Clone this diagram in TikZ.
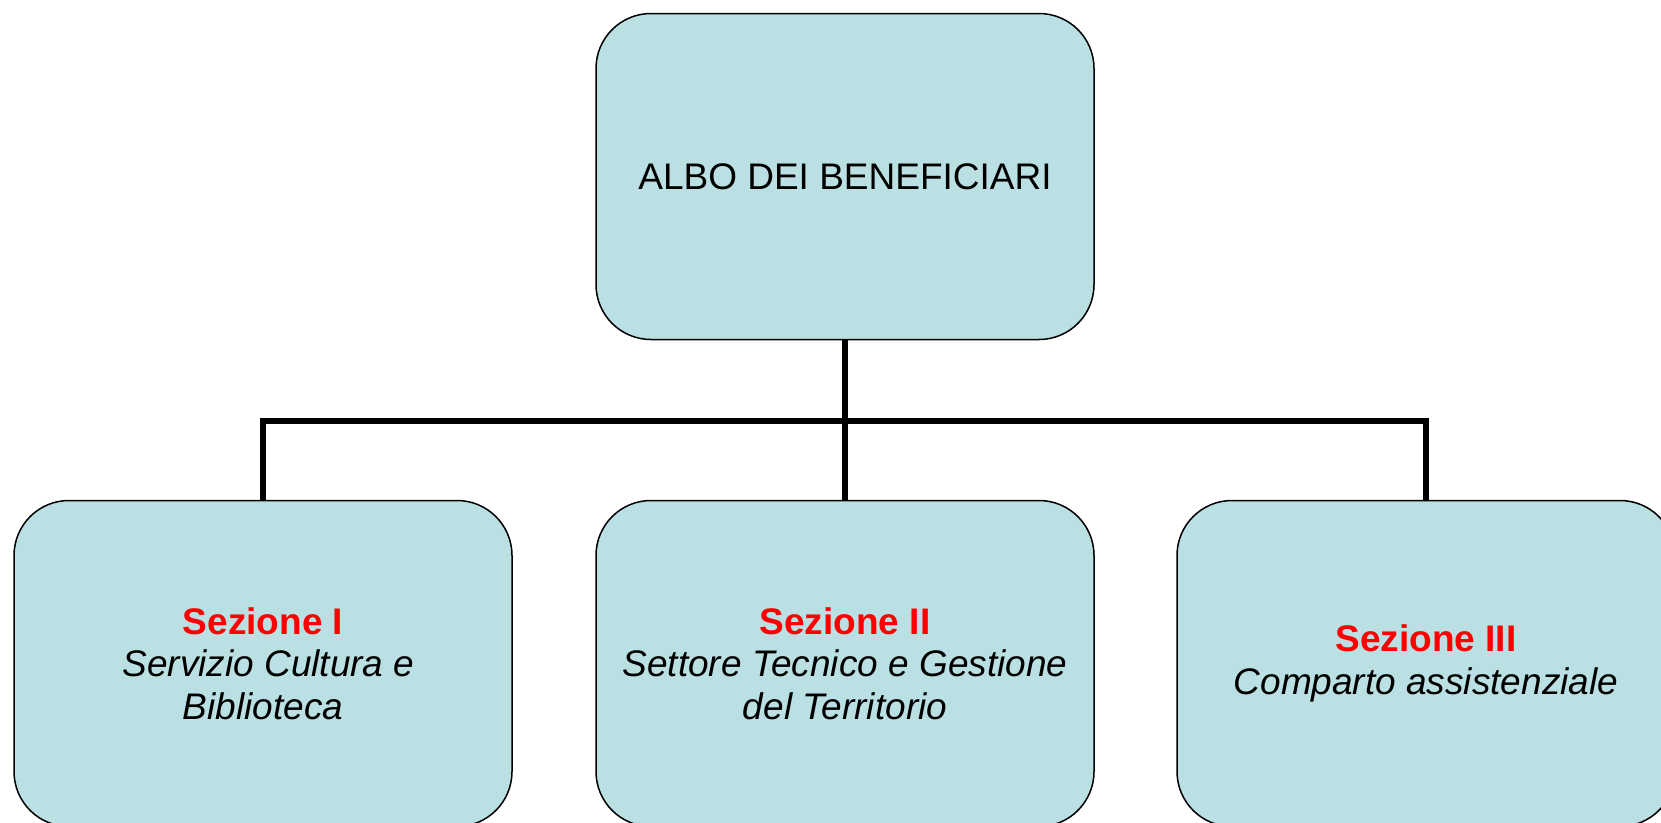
\documentclass[tikz,border=0pt]{standalone}
\usepackage{fontspec}
\setmainfont{Liberation Sans}
\definecolor{boxfill}{RGB}{187,224,227}
\definecolor{secred}{RGB}{255,0,0}
\tikzset{
  box/.style={draw=black, line width=1.5pt, fill=boxfill, rounded corners=55pt,
    minimum width=498pt, minimum height=326pt, align=center, inner sep=0pt,
    font=\fontsize{37}{42.5}\selectfont},
  conn/.style={draw=black, line width=6pt, line join=miter}
}
\newcommand{\secname}[1]{{\color{secred}\bfseries #1}}
\begin{document}
\begin{tikzpicture}[x=1pt,y=-1pt]
\useasboundingbox (0,0) rectangle (1661,822);
\clip (0,0) rectangle (1661,822);
\fill[white] (0,0) rectangle (1661,822);
\coordinate (bus) at (845,421);
\node[box] (top) at (845,176.5) {ALBO DEI BENEFICIARI};
\node[box] (b1) at (263,663.5) {\secname{Sezione I}\\\rule{11pt}{0pt}\itshape Servizio Cultura e\\\itshape Biblioteca};
\node[box] (b2) at (845,663.5) {\secname{Sezione II}\\\itshape Settore Tecnico e Gestione\\\itshape del Territorio};
\node[box] (b3) at (1426,663.5) {\secname{Sezione III}\\\itshape Comparto assistenziale};
\draw[conn] (top.south) -- (bus);
\draw[conn] (b1.north) |- (bus) -| (b3.north);
\draw[conn] (bus) -- (b2.north);
\end{tikzpicture}
\end{document}
